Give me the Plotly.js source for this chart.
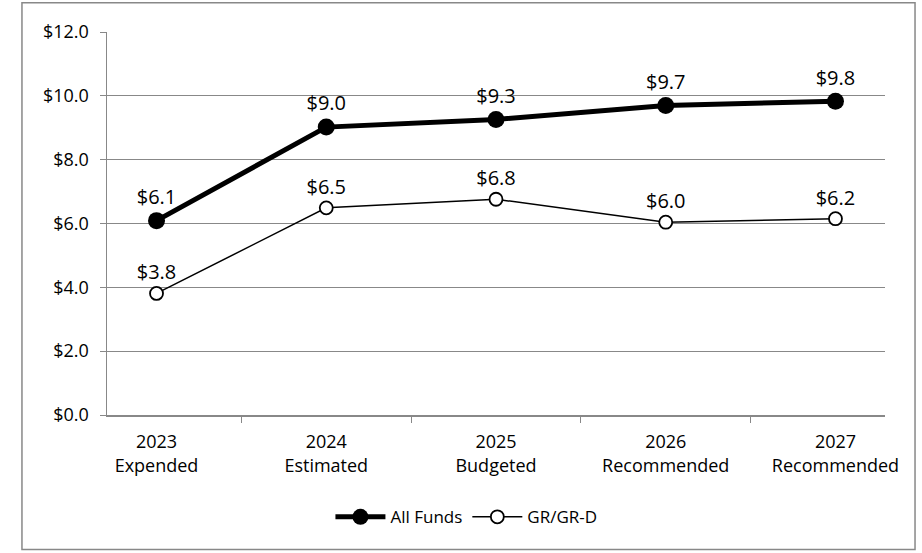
<!DOCTYPE html>
<html>
<head>
<meta charset="utf-8">
<script src="https://cdn.plot.ly/plotly-3.0.1.min.js"></script>
<style>html,body{margin:0;padding:0;background:#fff;}#chart{width:922px;height:553px;}</style>
</head>
<body>
<div id="chart"></div>
<script>
var categories = ["2023<br>Expended", "2024<br>Estimated", "2025<br>Budgeted", "2026<br>Recommended", "2027<br>Recommended"];
var allFunds = [6.09, 9.02, 9.26, 9.70, 9.83];
var grGrD = [3.81, 6.49, 6.76, 6.04, 6.15];
var allFundsLabels = ["$6.1", "$9.0", "$9.3", "$9.7", "$9.8"];
var grLabels = ["$3.8", "$6.5", "$6.8", "$6.0", "$6.2"];
var yTicks = [0, 2, 4, 6, 8, 10, 12];
var yTickLabels = ["$0.0", "$2.0", "$4.0", "$6.0", "$8.0", "$10.0", "$12.0"];

var FONT = "'Open Sans', sans-serif";

var traces = [
  {
    x: categories, y: allFunds, name: "All Funds", type: "scatter", mode: "lines+markers+text",
    line: {color: "#000", width: 5},
    marker: {color: "#000", size: 17},
    text: allFundsLabels, textposition: "top center",
    textfont: {family: FONT, size: 20, color: "#000"},
    cliponaxis: false
  },
  {
    x: categories, y: grGrD, name: "GR/GR-D", type: "scatter", mode: "lines+markers+text",
    line: {color: "#000", width: 1.5},
    marker: {color: "#fff", size: 13, line: {color: "#000", width: 1.8}},
    text: grLabels, textposition: "top center",
    textfont: {family: FONT, size: 20, color: "#000"},
    cliponaxis: false
  }
];

var layout = {
  width: 922, height: 553,
  margin: {l: 107, r: 37, t: 32, b: 138},
  paper_bgcolor: "#fff", plot_bgcolor: "#fff",
  font: {family: FONT, size: 18, color: "#000"},
  showlegend: true,
  legend: {orientation: "h", x: 0.462, xanchor: "center", y: -0.267, yanchor: "middle",
           font: {family: FONT, size: 17, color: "#000"}, itemwidth: 50},
  xaxis: {
    type: "category", tickson: "boundaries", ticks: "outside", ticklen: 6, tickcolor: "#888",
    showline: true, linecolor: "#888", linewidth: 1.5, showgrid: false,
    ticklabelstandoff: 10,
    tickfont: {family: FONT, size: 18, color: "#000"}, fixedrange: true
  },
  yaxis: {
    range: [0, 12], tickvals: yTicks, ticktext: yTickLabels,
    ticks: "outside", ticklen: 6, tickcolor: "#888",
    showline: true, linecolor: "#888", linewidth: 1.5,
    showgrid: true, gridcolor: "#888", gridwidth: 1.2, zeroline: false,
    ticklabelstandoff: 7,
    tickfont: {family: FONT, size: 18, color: "#000"}, fixedrange: true
  },
  shapes: [
    {type: "rect", xref: "paper", yref: "paper", x0: -0.1093, x1: 1.0386, y0: -0.3512, y1: 1.0766,
     line: {color: "#888", width: 1.5}, fillcolor: "rgba(0,0,0,0)", layer: "below"}
  ]
};

Plotly.newPlot("chart", traces, layout, {displayModeBar: false, staticPlot: true});
</script>
</body>
</html>
